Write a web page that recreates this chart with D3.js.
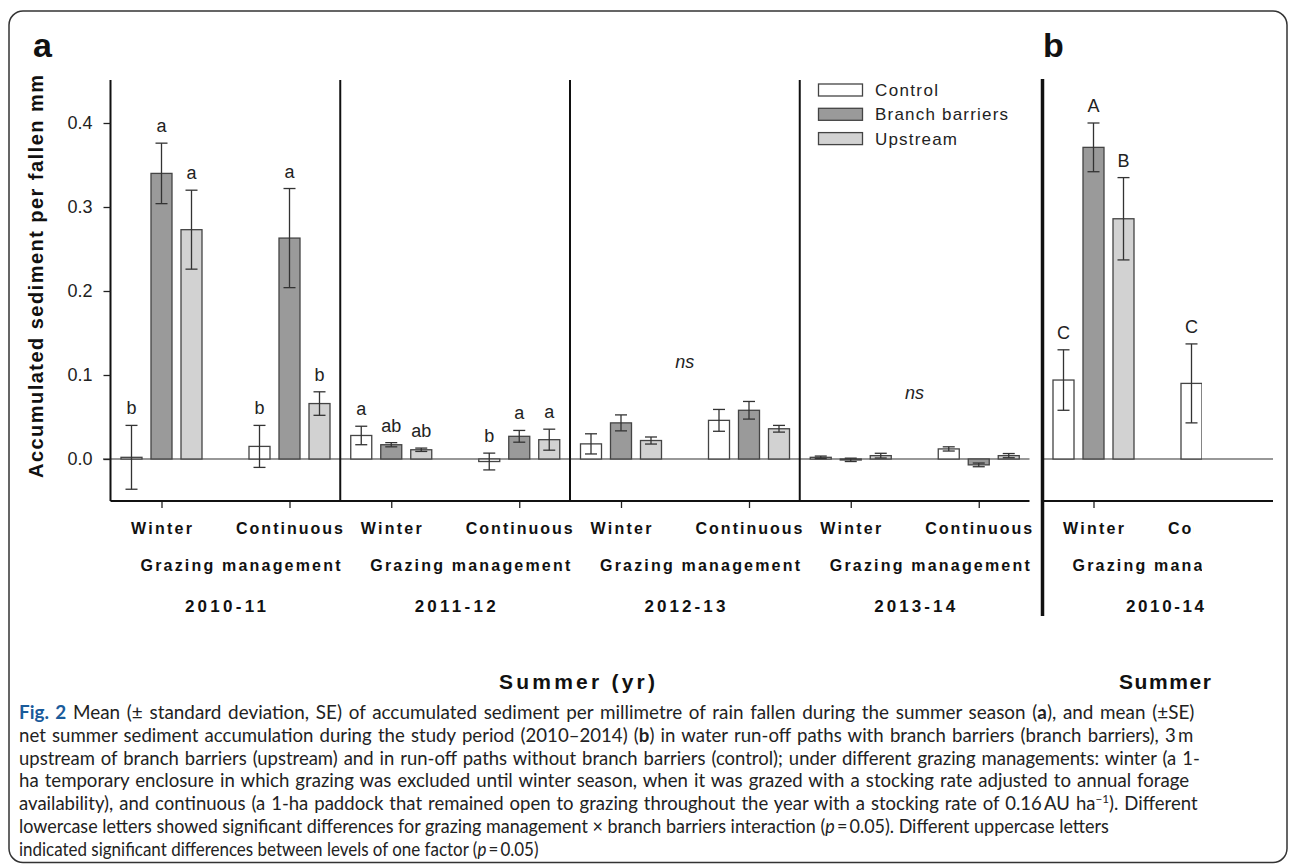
<!DOCTYPE html>
<html><head><meta charset="utf-8">
<script src="https://cdn.jsdelivr.net/npm/d3@7"></script>
<style>body{margin:0;background:#fff} svg{display:block}</style>
</head><body><svg id="c" width="1290" height="864"></svg>
<script>
// ---------- DATA ----------
const years = ["2010-11", "2011-12", "2012-13", "2013-14"];
const groups = ["Winter", "Continuous"];
const series = ["Control", "Branch barriers", "Upstream"];
// order: 2010-11 W, 2010-11 C, 2011-12 W, 2011-12 C, 2012-13 W, 2012-13 C, 2013-14 W, 2013-14 C
const controlMean  = [0.002, 0.015, 0.028, -0.003, 0.018, 0.046, 0.002, 0.012];
const controlSE    = [0.038, 0.025, 0.011, 0.010, 0.012, 0.013, 0.0015, 0.0025];
const branchMean   = [0.340, 0.263, 0.017, 0.027, 0.043, 0.058, -0.001, -0.007];
const branchSE     = [0.036, 0.059, 0.0025, 0.007, 0.0095, 0.0105, 0.002, 0.0022];
const upstreamMean = [0.273, 0.066, 0.011, 0.023, 0.022, 0.036, 0.004, 0.004];
const upstreamSE   = [0.047, 0.014, 0.002, 0.0125, 0.0042, 0.004, 0.0028, 0.0025];
const controlLetters  = ["b", "b", "a", "b", "", "", "", ""];
const branchLetters   = ["a", "a", "ab", "a", "", "", "", ""];
const upstreamLetters = ["a", "b", "ab", "a", "", "", "", ""];
const nsText  = ["", "", "ns", "ns"];
const nsLevel = [null, null, 0.115, 0.078];
// panel b: 2010-14 summer totals (Winter, Continuous)
const totalYear = "2010-14";
const totalControlMean  = [0.094, 0.090];
const totalControlSE    = [0.036, 0.047];
const totalBranchMean   = [0.371, null];
const totalBranchSE     = [0.029, null];
const totalUpstreamMean = [0.286, null];
const totalUpstreamSE   = [0.049, null];
const totalControlLetters  = ["C", "C"];
const totalBranchLetters   = ["A", ""];
const totalUpstreamLetters = ["B", ""];
const yTicks = [0, 0.1, 0.2, 0.3, 0.4];

// ---------- SETUP ----------
const svg = d3.select("#c");
const FONT = "'Liberation Sans', Arial, sans-serif";
const fills = {"Control": "#ffffff", "Branch barriers": "#9a9a9a", "Upstream": "#d2d2d2"};

const y = d3.scaleLinear().domain([-0.05, 0.45]).range([501, 81]);
const panelX = d3.scaleBand().domain(years).range([110.5, 1029.5]);
const gx = d3.scalePoint().domain(groups).range([51, 179]);
const sx = d3.scaleBand().domain(series).range([-45, 45]).paddingInner(0.3).paddingOuter(0.15);
const panelBX = 1042.5;

// outer frame
svg.append("rect").attr("x", 9).attr("y", 11).attr("width", 1278).attr("height", 851.5)
  .attr("rx", 14).attr("fill", "none").attr("stroke", "#333").attr("stroke-width", 1.5);

const defs = svg.append("defs");
defs.append("clipPath").attr("id", "clipB").append("rect")
  .attr("x", 1030).attr("y", 0).attr("width", 172).attr("height", 864);
defs.append("clipPath").attr("id", "clipBT").append("rect")
  .attr("x", 1030).attr("y", 0).attr("width", 163.5).attr("height", 864);

// zero lines
svg.append("line").attr("x1", 103).attr("x2", 1029.5).attr("y1", y(0)).attr("y2", y(0))
  .attr("stroke", "#333").attr("stroke-width", 1.2);
svg.append("line").attr("x1", panelBX).attr("x2", 1273).attr("y1", y(0)).attr("y2", y(0))
  .attr("stroke", "#333").attr("stroke-width", 1.2);

function rowsFor(means, ses, letters, idx) {
  return series.map((s, si) => ({series: s, mean: means[si][idx], se: ses[si][idx], letter: letters[si][idx]}));
}

function drawGroup(g, cx, rows) {
  rows.forEach(r => {
    if (r.mean === null) return;
    const x = cx + sx(r.series);
    const bw = sx.bandwidth();
    g.append("rect").attr("x", x).attr("width", bw)
      .attr("y", y(Math.max(0, r.mean))).attr("height", Math.max(1, Math.abs(y(r.mean) - y(0))))
      .attr("fill", fills[r.series]).attr("stroke", "#444").attr("stroke-width", 1.3);
    const xc = x + bw / 2;
    const top = r.mean + r.se, bot = r.mean - r.se;
    const eg = g.append("g").attr("stroke", "#333").attr("stroke-width", 1.3);
    eg.append("line").attr("x1", xc).attr("x2", xc).attr("y1", y(top)).attr("y2", y(bot));
    eg.append("line").attr("x1", xc - 6).attr("x2", xc + 6).attr("y1", y(top)).attr("y2", y(top));
    eg.append("line").attr("x1", xc - 6).attr("x2", xc + 6).attr("y1", y(bot)).attr("y2", y(bot));
    if (r.letter) {
      g.append("text").attr("x", xc).attr("y", y(Math.max(top, 0)) - 11)
        .attr("text-anchor", "middle").attr("font-family", FONT).attr("font-size", 18)
        .attr("fill", "#222").text(r.letter);
    }
  });
}

function bottomAxis(g, x0) {
  const ax = g.append("g").attr("transform", `translate(${x0},501)`)
    .call(d3.axisBottom(gx).tickSize(7).tickPadding(15).tickSizeOuter(0));
  ax.select(".domain").remove();
  ax.selectAll(".tick text").remove();
  ax.selectAll(".tick line").attr("stroke", "#222").attr("stroke-width", 1.3);
  g.selectAll(null).data(groups).enter().append("text")
    .attr("x", d => x0 + gx(d)).attr("y", 534).attr("text-anchor", "middle")
    .attr("font-family", FONT).attr("font-size", 16).attr("font-weight", "bold")
    .attr("fill", "#111").attr("textLength", d => d === "Winter" ? 61 : 107).attr("lengthAdjust", "spacing")
    .text(d => d);
}

// ---------- PANEL A ----------
const aMeans = [controlMean, branchMean, upstreamMean];
const aSEs = [controlSE, branchSE, upstreamSE];
const aLetters = [controlLetters, branchLetters, upstreamLetters];
const gA = svg.append("g");
years.forEach((yr, yi) => {
  const x0 = panelX(yr);
  groups.forEach((gr, gi) => {
    drawGroup(gA, x0 + gx(gr), rowsFor(aMeans, aSEs, aLetters, yi * 2 + gi));
  });
  bottomAxis(gA, x0);
  if (nsText[yi]) {
    gA.append("text").attr("x", x0 + panelX.bandwidth() / 2).attr("y", y(nsLevel[yi]) + 6)
      .attr("text-anchor", "middle").attr("font-family", FONT).attr("font-size", 18)
      .attr("font-style", "italic").attr("fill", "#222").text(nsText[yi]);
  }
  gA.append("text").attr("x", x0 + 130).attr("y", 571).attr("text-anchor", "middle")
    .attr("font-family", FONT).attr("font-size", 16).attr("font-weight", "bold").attr("fill", "#111")
    .attr("textLength", 200).attr("lengthAdjust", "spacing").text("Grazing management");
  gA.append("text").attr("x", x0 + panelX.bandwidth() / 2).attr("y", 612).attr("text-anchor", "middle")
    .attr("font-family", FONT).attr("font-size", 17).attr("font-weight", "bold").attr("fill", "#111")
    .attr("textLength", 81).attr("lengthAdjust", "spacing").text(yr);
  if (yi > 0) {
    gA.append("line").attr("x1", x0).attr("x2", x0).attr("y1", 80).attr("y2", 501)
      .attr("stroke", "#111").attr("stroke-width", 2);
  }
});
// bottom frame line
svg.append("line").attr("x1", 110.5).attr("x2", 1029.5).attr("y1", 501).attr("y2", 501)
  .attr("stroke", "#111").attr("stroke-width", 2);

// y axis
const yAx = svg.append("g").attr("transform", "translate(110.5,0)")
  .call(d3.axisLeft(y).tickValues(yTicks).tickFormat(d3.format(".1f")).tickSize(7).tickPadding(11).tickSizeOuter(0));
yAx.select(".domain").attr("stroke", "#111").attr("stroke-width", 2).attr("d", "M0,501V80");
yAx.selectAll(".tick line").attr("stroke", "#222").attr("stroke-width", 1.3);
yAx.selectAll(".tick text").attr("font-family", FONT).attr("font-size", 18).attr("fill", "#222");

svg.append("text").attr("transform", "translate(43,276.5) rotate(-90)").attr("text-anchor", "middle")
  .attr("font-family", FONT).attr("font-size", 20).attr("font-weight", "bold").attr("fill", "#111")
  .attr("textLength", 403).attr("lengthAdjust", "spacing").text("Accumulated sediment per fallen mm");

svg.append("text").attr("x", 577).attr("y", 689).attr("text-anchor", "middle")
  .attr("font-family", FONT).attr("font-size", 21).attr("font-weight", "bold").attr("fill", "#111")
  .attr("textLength", 156).attr("lengthAdjust", "spacing").text("Summer (yr)");

svg.append("text").attr("x", 33).attr("y", 57).attr("font-family", FONT).attr("font-size", 34)
  .attr("font-weight", "bold").attr("fill", "#111").text("a");

// legend
const leg = svg.append("g");
series.forEach((s, i) => {
  const ly = 84 + i * 24.3;
  leg.append("rect").attr("x", 818.5).attr("y", ly).attr("width", 44).attr("height", 12)
    .attr("fill", fills[s]).attr("stroke", "#444").attr("stroke-width", 1.3);
  leg.append("text").attr("x", 875).attr("y", ly + 12).attr("font-family", FONT).attr("font-size", 17)
    .attr("fill", "#222").attr("textLength", [63, 133, 82][i]).attr("lengthAdjust", "spacing").text(s);
});

// ---------- PANEL B ----------
const gB = svg.append("g").attr("clip-path", "url(#clipB)");
const gBT = svg.append("g").attr("clip-path", "url(#clipBT)");
const bMeans = [totalControlMean, totalBranchMean, totalUpstreamMean];
const bSEs = [totalControlSE, totalBranchSE, totalUpstreamSE];
const bLetters = [totalControlLetters, totalBranchLetters, totalUpstreamLetters];
groups.forEach((gr, gi) => {
  drawGroup(gB, panelBX + gx(gr), rowsFor(bMeans, bSEs, bLetters, gi));
});
bottomAxis(gBT, panelBX);
gB.append("text").attr("x", panelBX + 130).attr("y", 571).attr("text-anchor", "middle")
  .attr("font-family", FONT).attr("font-size", 16).attr("font-weight", "bold").attr("fill", "#111")
  .attr("textLength", 200).attr("lengthAdjust", "spacing").text("Grazing management");
svg.append("text").attr("x", 1165).attr("y", 612).attr("text-anchor", "middle")
  .attr("font-family", FONT).attr("font-size", 17).attr("font-weight", "bold").attr("fill", "#111")
  .attr("textLength", 78).attr("lengthAdjust", "spacing").text(totalYear);
svg.append("text").attr("x", 1165).attr("y", 689).attr("text-anchor", "middle")
  .attr("font-family", FONT).attr("font-size", 21).attr("font-weight", "bold").attr("fill", "#111")
  .attr("textLength", 92).attr("lengthAdjust", "spacing").text("Summer");
svg.append("line").attr("x1", panelBX).attr("x2", 1273).attr("y1", 501).attr("y2", 501)
  .attr("stroke", "#111").attr("stroke-width", 2);
svg.append("line").attr("x1", panelBX).attr("x2", panelBX).attr("y1", 79).attr("y2", 616)
  .attr("stroke", "#111").attr("stroke-width", 3.5);
svg.append("text").attr("x", 1043).attr("y", 57).attr("font-family", FONT).attr("font-size", 34)
  .attr("font-weight", "bold").attr("fill", "#111").text("b");

// ---------- CAPTION ----------
const capLines = [
  [["Fig. 2", "fig"], [" Mean (± standard deviation, SE) of accumulated sediment per millimetre of rain fallen during the summer season ("], ["a", "b"], ["), and mean (±SE)"]],
  [["net summer sediment accumulation during the study period (2010–2014) ("], ["b", "b"], [") in water run-off paths with branch barriers (branch barriers), 3\u2009m"]],
  [["upstream of branch barriers (upstream) and in run-off paths without branch barriers (control); under different grazing managements: winter (a 1-"]],
  [["ha temporary enclosure in which grazing was excluded until winter season, when it was grazed with a stocking rate adjusted to annual forage"]],
  [["availability), and continuous (a 1-ha paddock that remained open to grazing throughout the year with a stocking rate of 0.16\u2009AU ha"], ["−1", "sup"], ["). Different"]],
  [["lowercase letters showed significant differences for grazing management × branch barriers interaction ("], ["p", "i"], ["\u2009=\u20090.05). Different uppercase letters"]],
  [["indicated significant differences between levels of one factor ("], ["p", "i"], ["\u2009=\u20090.05)"]]
];
const capWidths = [1176, 1175, 1181, 1171, 1179, 1091, 520];
const cap = svg.append("g");
const capNodes = capLines.map((parts, li) => {
  const t = cap.append("text").attr("x", 0).attr("y", 719 + li * 22.8)
    .attr("font-family", "Lato, 'Open Sans', sans-serif").attr("font-size", 19).attr("fill", "#222");
  parts.forEach(([s, kind]) => {
    const ts = t.append("tspan").text(s);
    if (kind === "fig") ts.attr("font-weight", "bold").attr("fill", "#1a5b9b");
    if (kind === "b") ts.attr("font-weight", "bold");
    if (kind === "i") ts.attr("font-style", "italic");
    if (kind === "sup") ts.attr("font-size", 12).attr("baseline-shift", "super");
  });
  return t;
});
// base compression from line 6; justified lines get part of their extra width as word spacing
const kCap = capWidths[5] / capNodes[5].node().getComputedTextLength();
capNodes.forEach((t, li) => {
  if (li < 5) {
    const w0 = t.node().getComputedTextLength();
    const nSp = (t.text().match(/ /g) || []).length;
    const ws = Math.max(0, 0.4 * (capWidths[li] / kCap - w0) / nSp);
    t.style("word-spacing", ws + "px");
  }
  const w1 = t.node().getComputedTextLength();
  t.attr("transform", `translate(19,0) scale(${capWidths[li] / w1},1)`);
});
</script></body></html>
